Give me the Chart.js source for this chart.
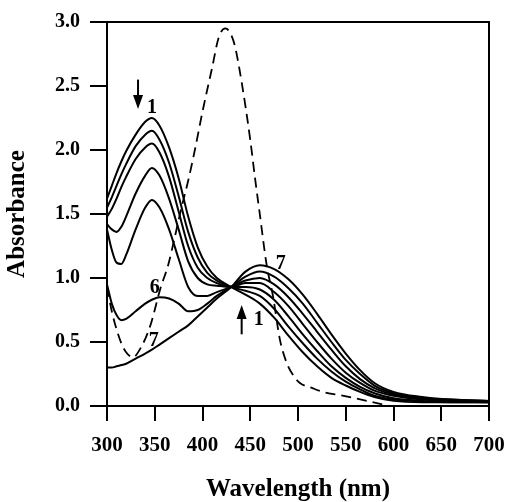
<!DOCTYPE html>
<html>
<head>
<meta charset="utf-8">
<script src="https://cdn.jsdelivr.net/npm/chart.js@4/dist/chart.umd.min.js"></script>
<style>
  html, body { margin: 0; padding: 0; background: #fff; }
  canvas { display: block; }
</style>
</head>
<body>
<canvas id="espectro" width="508" height="502"></canvas>
<script>
// Longitudes de onda comunes a las curvas 1-7 (nm)
const wl = [300, 305, 310, 315, 320, 330, 340, 347, 355, 365, 375, 385, 395, 405, 415, 430,
            445, 460, 475, 490, 505, 520, 535, 550, 565, 580, 600, 630, 660, 700];

const curva1 = [1.62, 1.72, 1.82, 1.91, 1.99, 2.12, 2.22, 2.25, 2.19, 2.02, 1.78, 1.48, 1.24, 1.09, 1.00, 0.93,
                0.87, 0.80, 0.69, 0.55, 0.42, 0.31, 0.22, 0.16, 0.11, 0.07, 0.04, 0.03, 0.03, 0.03];
const curva2 = [1.55, 1.63, 1.72, 1.81, 1.89, 2.03, 2.12, 2.15, 2.08, 1.90, 1.64, 1.36, 1.16, 1.04, 0.98, 0.93,
                0.90, 0.86, 0.76, 0.62, 0.49, 0.37, 0.27, 0.19, 0.13, 0.08, 0.05, 0.035, 0.03, 0.03];
const curva3 = [1.48, 1.54, 1.62, 1.71, 1.79, 1.93, 2.02, 2.05, 1.98, 1.79, 1.52, 1.25, 1.08, 1.00, 0.96, 0.93,
                0.93, 0.91, 0.83, 0.70, 0.56, 0.43, 0.31, 0.22, 0.15, 0.10, 0.06, 0.04, 0.035, 0.03];
const curva4 = [1.42, 1.38, 1.36, 1.40, 1.48, 1.66, 1.80, 1.86, 1.80, 1.62, 1.38, 1.13, 1.00, 0.95, 0.94, 0.93,
                0.96, 0.96, 0.89, 0.78, 0.64, 0.50, 0.37, 0.26, 0.18, 0.12, 0.08, 0.05, 0.04, 0.035];
const curva5 = [1.38, 1.22, 1.12, 1.11, 1.18, 1.38, 1.55, 1.61, 1.55, 1.38, 1.15, 0.93, 0.86, 0.86, 0.89, 0.93,
                0.98, 1.00, 0.95, 0.85, 0.72, 0.58, 0.44, 0.31, 0.21, 0.14, 0.09, 0.06, 0.045, 0.035];
const curva6 = [0.95, 0.80, 0.71, 0.67, 0.68, 0.74, 0.80, 0.83, 0.85, 0.84, 0.80, 0.74, 0.75, 0.80, 0.86, 0.93,
                1.01, 1.05, 1.01, 0.92, 0.80, 0.65, 0.50, 0.36, 0.25, 0.16, 0.10, 0.065, 0.05, 0.04];
const curva7 = [0.30, 0.30, 0.31, 0.32, 0.33, 0.37, 0.41, 0.44, 0.48, 0.53, 0.58, 0.63, 0.70, 0.77, 0.84, 0.93,
                1.05, 1.10, 1.07, 0.99, 0.87, 0.72, 0.56, 0.41, 0.28, 0.18, 0.11, 0.07, 0.05, 0.04];

// Curva discontinua (tiene su propia rejilla)
const wlTrazos = [300, 305, 310, 315, 320, 327, 335, 345, 356, 364, 371, 378, 385, 392, 400, 410, 417, 424,
                  430, 434, 441, 450, 455, 460, 467, 474, 481, 488, 495, 502, 515, 526, 544, 560, 575, 595];
const absTrazos = [0.93, 0.74, 0.60, 0.49, 0.42, 0.38, 0.45, 0.62, 0.92, 1.10, 1.32, 1.55, 1.76, 2.00, 2.30, 2.64, 2.88, 2.95,
                   2.90, 2.81, 2.53, 2.08, 1.78, 1.50, 1.11, 0.85, 0.52, 0.34, 0.24, 0.18, 0.14, 0.11, 0.085, 0.06, 0.035, 0.0];

// Ejes
const xMin = 300, xMax = 700, xPaso = 50;
const yMin = 0, yMax = 3, yPaso = 0.5;

// Rótulos de las curvas (en unidades de datos)
const rotulos = [
  { texto: '1', nm: 347, abs: 2.33 },
  { texto: '7', nm: 482, abs: 1.11 },
  { texto: '6', nm: 350, abs: 0.92 },
  { texto: '7', nm: 349, abs: 0.51 },
  { texto: '1', nm: 459, abs: 0.67 },
];
// Flechas: desde -> hasta (la punta en "hasta")
const flechas = [
  { nm: 332.5, desde: 2.55, hasta: 2.32 },
  { nm: 441, desde: 0.56, hasta: 0.79 },
];

const SERIF = '"Liberation Serif", "Times New Roman", serif';
const puntos = (xs, ys) => xs.map((x, i) => ({ x, y: ys[i] }));

const curvas = [curva1, curva2, curva3, curva4, curva5, curva6, curva7];
const datasets = curvas.map((c, i) => ({
  label: `${i + 1}`,
  data: puntos(wl, c),
  borderColor: '#000',
  borderWidth: 2,
  pointRadius: 0,
  cubicInterpolationMode: 'monotone',
  fill: false,
}));
datasets.push({
  label: 'discontinua',
  data: puntos(wlTrazos, absTrazos),
  borderColor: '#000',
  borderWidth: 1.8,
  borderDash: [10, 6],
  pointRadius: 0,
  cubicInterpolationMode: 'monotone',
  fill: false,
});

const marco = {
  id: 'marco',
  afterDraw(chart) {
    const { ctx, chartArea: a } = chart;
    ctx.save();
    ctx.strokeStyle = '#000';
    ctx.lineWidth = 2;
    ctx.beginPath();
    ctx.moveTo(a.left, a.top);
    ctx.lineTo(a.right, a.top);
    ctx.lineTo(a.right, a.bottom);
    ctx.stroke();
    ctx.restore();
  },
};

const anotaciones = {
  id: 'anotaciones',
  afterDatasetsDraw(chart) {
    const { ctx, scales: { x, y } } = chart;
    ctx.save();
    ctx.fillStyle = '#000';
    ctx.strokeStyle = '#000';
    ctx.font = `bold 20px ${SERIF}`;
    ctx.textAlign = 'center';
    ctx.textBaseline = 'middle';
    rotulos.forEach((r) => ctx.fillText(r.texto, x.getPixelForValue(r.nm), y.getPixelForValue(r.abs)));

    flechas.forEach((f) => {
      const px = x.getPixelForValue(f.nm);
      const y0 = y.getPixelForValue(f.desde);
      const y1 = y.getPixelForValue(f.hasta);
      const dir = Math.sign(y1 - y0);
      ctx.lineWidth = 2;
      ctx.beginPath();
      ctx.moveTo(px, y0);
      ctx.lineTo(px, y1 - dir * 10);
      ctx.stroke();
      ctx.beginPath();
      ctx.moveTo(px, y1);
      ctx.lineTo(px - 5, y1 - dir * 14);
      ctx.lineTo(px + 5, y1 - dir * 14);
      ctx.closePath();
      ctx.fill();
    });
    ctx.restore();
  },
};

new Chart(document.getElementById('espectro'), {
  type: 'line',
  data: { datasets },
  plugins: [marco, anotaciones],
  options: {
    responsive: false,
    animation: false,
    devicePixelRatio: 1,
    layout: { padding: { top: 21, right: 19, left: 0, bottom: 0 } },
    plugins: { legend: { display: false }, tooltip: { enabled: false } },
    scales: {
      x: {
        type: 'linear',
        min: xMin,
        max: xMax,
        // altura fija del eje y sin margen extra a la derecha por el rótulo "700"
        afterFit: (s) => { s.height = 96; s.paddingRight = 0; },
        ticks: {
          stepSize: xPaso,
          color: '#000',
          padding: 12,
          font: { family: SERIF, size: 21, weight: 'bold' },
          maxRotation: 0,
        },
        grid: { drawOnChartArea: false, color: '#000', lineWidth: 2, tickLength: 15 },
        border: { color: '#000', width: 2 },
        title: {
          display: true,
          text: 'Wavelength (nm)',
          color: '#000',
          padding: { top: 0, bottom: 0 },
          font: { family: SERIF, size: 25, weight: 'bold', lineHeight: 1 },
        },
      },
      y: {
        type: 'linear',
        min: yMin,
        max: yMax,
        afterFit: (s) => { s.width = 107; },
        ticks: {
          stepSize: yPaso,
          color: '#000',
          padding: 10,
          font: { family: SERIF, size: 20, weight: 'bold' },
          callback: (v) => v.toFixed(1),
        },
        grid: { drawOnChartArea: false, color: '#000', lineWidth: 2, tickLength: 17 },
        border: { color: '#000', width: 2 },
        title: {
          display: true,
          text: 'Absorbance',
          color: '#000',
          padding: { top: 5, bottom: 0 },
          font: { family: SERIF, size: 25, weight: 'bold', lineHeight: 1 },
        },
      },
    },
  },
});
</script>
</body>
</html>
